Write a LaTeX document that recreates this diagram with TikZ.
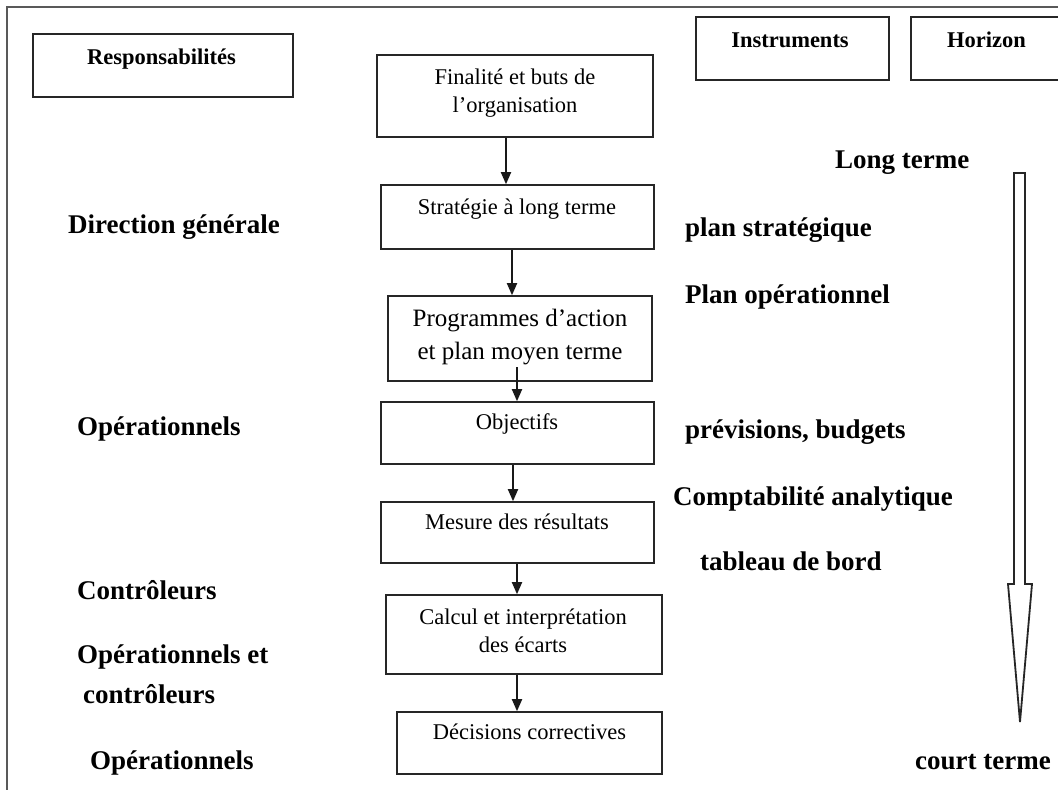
\documentclass[tikz,border=0pt]{standalone}
\usepackage{fontspec}
\setmainfont{Liberation Serif}
\usetikzlibrary{arrows.meta}
\begin{document}
\begin{tikzpicture}[x=1pt,y=-1pt,
  boxnode/.style={draw=black!85, line width=1.6pt, inner sep=0pt, rectangle},
  boxtxt/.style={anchor=base, inner sep=0pt, font=\fontsize{22.5}{27}\selectfont},
  bigtxt/.style={anchor=base, inner sep=0pt, font=\fontsize{25}{30}\selectfont},
  headtxt/.style={anchor=base, inner sep=0pt, font=\fontsize{22.5}{27}\selectfont\bfseries},
  lbl/.style={anchor=base west, inner sep=0pt, font=\fontsize{27}{32}\selectfont\bfseries},
  arr/.style={line width=1.8pt, draw=black!90, -{Triangle[length=12pt,width=10pt]}},
  frame/.style={line width=1.5pt, draw=black!65}]
\useasboundingbox (0,0) rectangle (1058,790);
\clip (0,0) rectangle (1058,790);
\fill[white] (0,0) rectangle (1058,790);
% outer frame (cut by the image border)
\draw[frame] (7,800) -- (7,7) -- (1070,7);
% header boxes
\node[boxnode, minimum width=260pt, minimum height=63pt] (resp) at (163,65.5) {};
\node[headtxt] (resptxt) at (161.5,64) {Responsabilités};
\node[boxnode, minimum width=193pt, minimum height=63pt] (instr) at (792.5,48.5) {};
\node[headtxt] (instrtxt) at (790,47) {Instruments};
\node[boxnode, minimum width=164pt, minimum height=63pt] (horiz) at (993,48.5) {};
\node[headtxt] (horiztxt) at (986.5,47) {Horizon};
% central chain
\node[boxnode, minimum width=276pt, minimum height=82pt] (fin) at (515,96) {};
\node[boxtxt] (fint1) at (515,84.5) {Finalité et buts de};
\node[boxtxt] (fint2) at (515,112.5) {l’organisation};
\node[boxnode, minimum width=273pt, minimum height=64pt] (strat) at (517.5,217) {};
\node[boxtxt] (stratt) at (517,214.5) {Stratégie à long terme};
\node[boxnode, minimum width=264pt, minimum height=85pt] (prog) at (520,338.5) {};
\node[bigtxt] (progt1) at (520,326) {Programmes d’action};
\node[bigtxt] (progt2) at (520,359) {et plan moyen terme};
\node[boxnode, minimum width=273pt, minimum height=62pt] (obj) at (517.5,433) {};
\node[boxtxt] (objt) at (517,429.5) {Objectifs};
\node[boxnode, minimum width=273pt, minimum height=61pt] (mes) at (517.5,532.5) {};
\node[boxtxt] (mest) at (517,529.5) {Mesure des résultats};
\node[boxnode, minimum width=276pt, minimum height=79pt] (calc) at (524,634.5) {};
\node[boxtxt] (calct1) at (523,624.5) {Calcul et interprétation};
\node[boxtxt] (calct2) at (523,652.5) {des écarts};
\node[boxnode, minimum width=265pt, minimum height=62pt] (dec) at (529.5,743) {};
\node[boxtxt] (dect) at (529.5,739.5) {Décisions correctives};
% arrow x positions
\coordinate (xa) at (506,0);
\coordinate (xb) at (512,0);
\coordinate (xc) at (517,0);
\coordinate (xd) at (513,0);
\coordinate (pstart) at (517,367);
\draw[arr] (fin.south -| xa) -- (strat.north -| xa);
\draw[arr] (strat.south -| xb) -- (prog.north -| xb);
\draw[arr] (pstart) -- (obj.north -| xc);
\draw[arr] (obj.south -| xd) -- (mes.north -| xd);
\draw[arr] (mes.south -| xc) -- (calc.north -| xc);
\draw[arr] (calc.south -| xc) -- (dec.north -| xc);
% left labels
\node[lbl] (dg) at (68,233) {Direction générale};
\node[lbl] (op1) at (77,435) {Opérationnels};
\node[lbl] (ctr) at (77,599) {Contrôleurs};
\node[lbl] (opet) at (77,663) {Opérationnels et};
\node[lbl] (ctr2) at (83,703) {contrôleurs};
\node[lbl] (op2) at (90,769) {Opérationnels};
% right labels
\node[lbl] (ps) at (685,236) {plan stratégique};
\node[lbl] (po) at (685,303) {Plan opérationnel};
\node[lbl] (pb) at (685,438) {prévisions, budgets};
\node[lbl] (ca) at (673,505) {Comptabilité analytique};
\node[lbl] (tb) at (700,570) {tableau de bord};
\node[lbl] (lt) at (835,168) {Long terme};
\node[lbl] (ct) at (915,769) {court terme};
% hollow horizon arrow
\draw[line width=1.8pt, draw=black!85, line join=miter]
  (1014,173) -- (1025,173) -- (1025,584) -- (1032,584) -- (1020,722)
  -- (1008,584) -- (1014,584) -- cycle;
\end{tikzpicture}
\end{document}
